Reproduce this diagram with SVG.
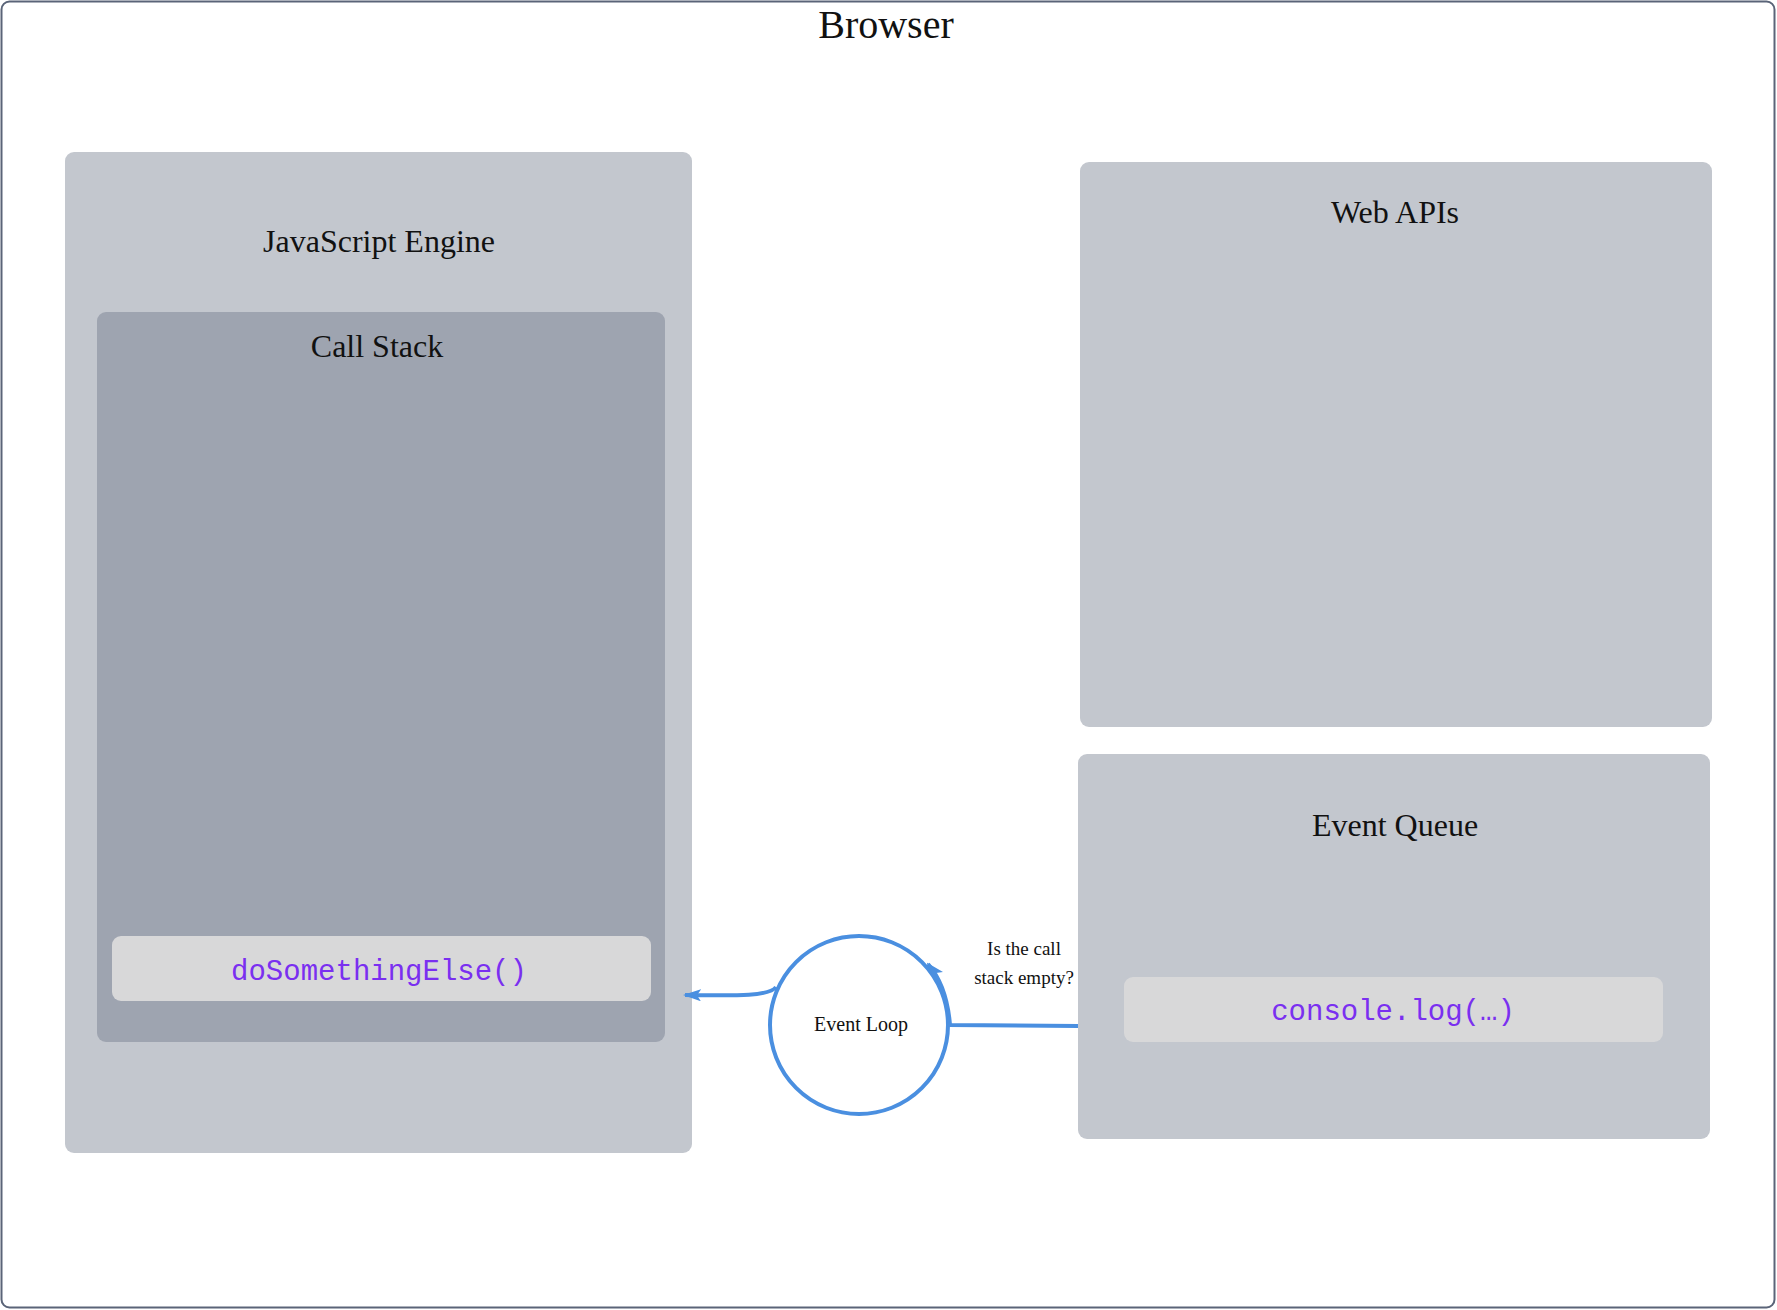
<svg xmlns="http://www.w3.org/2000/svg" width="1777" height="1310" viewBox="0 0 1777 1310">
<defs>
<style>
.t{font-family:"Liberation Serif",serif;fill:#111;text-anchor:middle}
.m{font-family:"Liberation Mono",monospace;fill:#7a2ff0;text-anchor:middle;font-size:29px}
.box{fill:#c3c7ce}
.code{fill:#d8d8d9}
.c{stroke:#4a8fe0;stroke-width:4;fill:none}
</style>
<marker id="ah" markerWidth="10" markerHeight="8" refX="9" refY="4" orient="auto" markerUnits="userSpaceOnUse" viewBox="0 0 10 8"><path d="M0,0L10,4L0,8z" fill="#4a8fe0" transform="scale(1.6) translate(-4,-1.5)"/></marker>
<marker id="a" markerWidth="18" markerHeight="12" refX="16" refY="6" orient="auto" markerUnits="userSpaceOnUse"><path d="M0,0L18,6L0,12L4,6z" fill="#4a8fe0"/></marker>
</defs>
<rect width="1777" height="1310" fill="#fff"/>
<g id="browser"><rect x="1.5" y="1.5" width="1773" height="1306" rx="8" fill="none" stroke="#5a6478" stroke-width="2"/><text class="t" x="886" y="38" font-size="40">Browser</text></g>
<g id="js-engine"><rect class="box" x="65" y="152" width="627" height="1001" rx="9"/><text class="t" x="379" y="252" font-size="32">JavaScript Engine</text></g>
<g id="call-stack"><rect x="97" y="312" width="568" height="730" rx="9" fill="#9ea4b0"/><text class="t" x="377" y="357" font-size="32">Call Stack</text></g>
<g id="doSomethingElse"><rect class="code" x="112" y="936" width="539" height="65" rx="9"/><text class="m" x="379" y="980">doSomethingElse()</text></g>
<g id="web-apis"><rect class="box" x="1080" y="162" width="632" height="565" rx="9"/><text class="t" x="1395" y="223" font-size="32">Web APIs</text></g>
<g id="event-queue"><rect class="box" x="1078" y="754" width="632" height="385" rx="9"/><text class="t" x="1395" y="836" font-size="32">Event Queue</text></g>
<g id="console-log"><rect class="code" x="1124" y="977" width="539" height="65" rx="9"/><text class="m" x="1393" y="1020">console.log(…)</text></g>
<g id="event-loop"><circle cx="859" cy="1025" r="89" fill="#fff" stroke="#4a8fe0" stroke-width="4"/><text class="t" x="861" y="1031" font-size="20">Event Loop</text></g>
<g id="connectors">
<path class="c" d="M1078,1026 L950,1025 C948,1000 942,980 928,964" marker-end="url(#a)"/>
<path class="c" d="M776,987 C770,996 740,996 685,995" marker-end="url(#a)"/>
<text class="t" x="1024" y="955" font-size="19">Is the call</text>
<text class="t" x="1024" y="984" font-size="19">stack empty?</text>
</g>
</svg>
